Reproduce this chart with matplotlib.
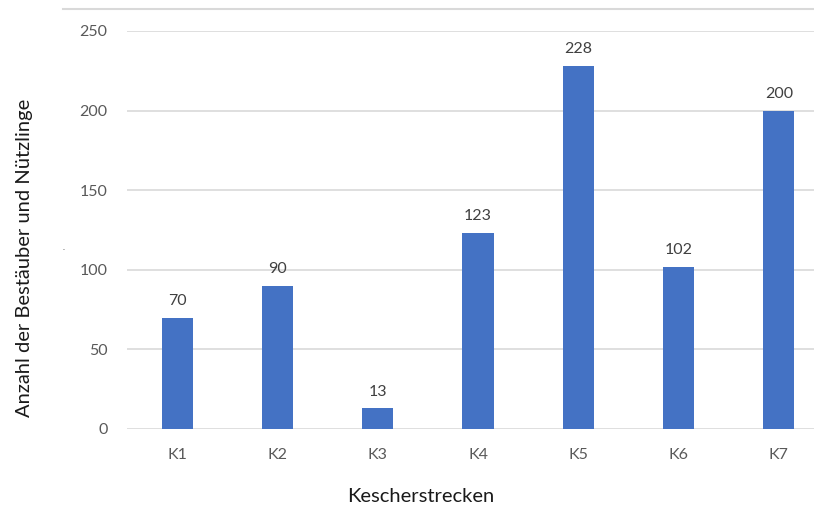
import matplotlib.pyplot as plt
from matplotlib.lines import Line2D

# Fänge je Kescherstrecke
strecken = ["K1", "K2", "K3", "K4", "K5", "K6", "K7"]
anzahl = [70, 90, 13, 123, 228, 102, 200]
y_ticks = [0, 50, 100, 150, 200, 250]

plt.rcParams['font.family'] = ['Lato', 'DejaVu Sans']

fig = plt.figure(figsize=(8.14, 5.08), dpi=100)
ax = fig.add_axes([127 / 814, 1 - 429 / 508, 702 / 814, 398 / 508])

bars = ax.bar(range(len(strecken)), anzahl, width=0.31, color='#4472c4', zorder=3)
for b, v in zip(bars, anzahl):
    ax.annotate(str(v), (b.get_x() + b.get_width() / 2, v), xytext=(0, 7),
                textcoords='offset points', ha='center', va='bottom',
                fontsize=11.5, color='#404040')

ax.set_xlim(-0.5, len(strecken) - 0.5)
ax.set_ylim(0, 250)
ax.set_yticks(y_ticks)
ax.set_xticks(range(len(strecken)))
ax.set_xticklabels(strecken)
ax.grid(axis='y', color='#d9d9d9', linewidth=1.2, zorder=0)
for s in ax.spines.values():
    s.set_visible(False)
ax.tick_params(length=0, labelsize=11.5, labelcolor='#595959')
ax.tick_params(axis='y', pad=14)
ax.tick_params(axis='x', pad=14)

# Achsentitel frei platziert
fig.text(421 / 814, 1 - 497 / 508, "Kescherstrecken", fontsize=14.5, color='#1a1a1a',
         ha='center', va='center')
fig.text(25 / 814, 1 - 258 / 508, "Anzahl der Bestäuber und Nützlinge", fontsize=14.5,
         color='#1a1a1a', ha='center', va='center', rotation=90)

# Rahmenlinie oben
fig.add_artist(Line2D([63 / 814, 1], [1 - 8.5 / 508] * 2, transform=fig.transFigure,
                      color='#d9d9d9', linewidth=1.5))
fig.text(64 / 814, 1 - 247 / 508, ".", fontsize=6, color='#555555', ha='center', va='center')

fig.savefig("out.png", dpi=100)
